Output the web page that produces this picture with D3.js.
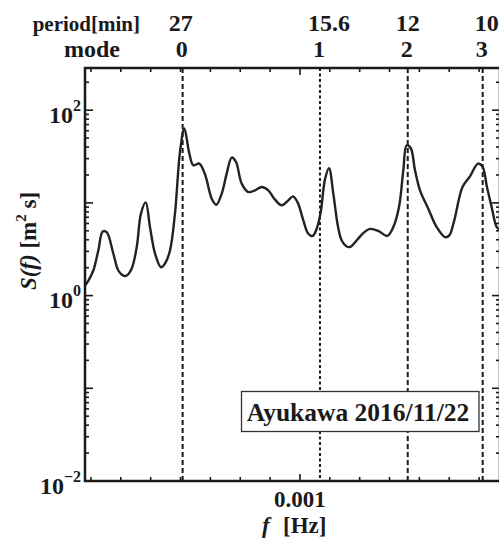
<!DOCTYPE html>
<html>
<head>
<meta charset="utf-8">
<script src="https://cdn.jsdelivr.net/npm/d3@7/dist/d3.min.js"></script>
<style>
  html, body { margin: 0; padding: 0; background: #fff; }
  svg { display: block; }
  text { font-family: "Liberation Serif", "Times New Roman", "DejaVu Serif", serif; font-weight: bold; fill: #1a1a1a; }
</style>
</head>
<body>
<svg id="chart" width="499" height="547"></svg>
<script>
// Spectral density S(f) of sea-level oscillation, Ayukawa 2016/11/22
const freq = [
  0.000280, 0.0002934, 0.0003078, 0.0003246, 0.0003393, 0.0003527, 0.0003748, 0.0003915,
  0.0004083, 0.0004197, 0.0004364, 0.0004532, 0.0004676, 0.0004833, 0.0004977, 0.0005145,
  0.0005346, 0.0005480, 0.0005647, 0.0005814, 0.0005982, 0.0006126, 0.0006293, 0.0006427,
  0.0006628, 0.0006819, 0.0007044, 0.0007198, 0.0007379, 0.0007546, 0.0007714, 0.0007858,
  0.0008048, 0.0008270, 0.0008494, 0.0008718, 0.0008939, 0.0009164, 0.0009388, 0.0009609,
  0.0009767, 0.0009928, 0.0010112, 0.0010279, 0.0010427, 0.0010560, 0.0010695, 0.0010839,
  0.0010973, 0.0011117, 0.0011267, 0.0011398, 0.0011565, 0.0011676, 0.0011910, 0.0012111,
  0.0012346, 0.0012624, 0.0012925, 0.0013126, 0.0013317, 0.0013461, 0.0013575, 0.0013712,
  0.0013853, 0.0014020, 0.0014298, 0.0014580, 0.0014858, 0.0015002, 0.0015159, 0.0015444,
  0.0015695, 0.0015963, 0.0016114, 0.0016265, 0.0016422, 0.0016590, 0.0016683
];
const spectrum = [
  1.283, 1.489, 1.864, 3.065, 4.920, 4.834, 2.846, 1.864,
  1.645, 1.645, 1.958, 3.328, 7.700, 10.12, 5.475, 2.846,
  2.022, 2.218, 3.065, 7.700, 35.42, 63.42, 34.29, 25.43,
  26.53, 20.33, 11.10, 9.561, 12.58, 20.69, 30.81, 27.61,
  16.13, 13.09, 13.65, 14.82, 13.65, 10.83, 9.397, 10.64,
  11.76, 10.00, 6.469, 4.645, 4.398, 5.261, 7.953, 17.95,
  23.60, 12.58, 5.711, 3.932, 3.386, 3.344, 3.981, 4.681,
  5.235, 4.982, 4.398, 5.475, 9.008, 22.46, 41.84, 38.83,
  22.46, 13.65, 8.654, 5.475, 4.269, 4.453, 6.310, 14.82,
  19.34, 26.53, 24.62, 14.71, 8.942, 5.475, 5.170
];

// Seiche modes of the bay and their periods
const modeNumbers = ["0", "1", "2", "3"];
const modePeriods = ["27", "15.6", "12", "10"];
const modeFreq = [0.000607, 0.001067, 0.001361, 0.001612];

// Axis ticks
const xTickLabels = ["0.001"];
const xTickValues = [0.001];
const yTickExponents = [-2, 0, 2];
const legendLabel = "Ayukawa 2016/11/22";

const xDomain = [0.00028, 0.00167];
const yDomain = [0.01, 285];

const L = 85, R = 500, T = 68, B = 481;
const svg = d3.select("#chart");
const ink = "#1a1a1a";

const x = d3.scaleLinear().domain(xDomain).range([L, R]);
const y = d3.scaleLog().domain(yDomain).range([B, T]);

// Mode lines
const dashes = ["5,3", "3,2.5", "5,3", "5,3"];
svg.append("g").selectAll("line").data(modeFreq).join("line")
  .attr("x1", d => x(d)).attr("x2", d => x(d))
  .attr("y1", T).attr("y2", B)
  .attr("stroke", ink).attr("stroke-width", 2)
  .attr("stroke-dasharray", (d, i) => dashes[i]);

// Spectrum curve
const pts = freq.map((f, i) => [f, spectrum[i]]);
const line = d3.line().x(d => x(d[0])).y(d => y(d[1])).curve(d3.curveCatmullRom.alpha(0.5));
svg.append("path").datum(pts)
  .attr("d", line).attr("fill", "none")
  .attr("stroke", "#222").attr("stroke-width", 2.4).attr("stroke-linejoin", "round");

// Frame
svg.append("rect").attr("x", L).attr("y", T).attr("width", R - L).attr("height", B - T)
  .attr("fill", "none").attr("stroke", ink).attr("stroke-width", 2.5);

// x ticks (linear, every 1e-4), pointing inward on bottom and top
const xMinor = d3.range(3, 17).map(k => k * 1e-4);
const gx = svg.append("g").attr("stroke", ink).attr("stroke-width", 1.6);
xMinor.forEach(v => {
  const major = Math.abs(v - 0.001) < 1e-9;
  const len = major ? 7 : 4;
  gx.append("line").attr("x1", x(v)).attr("x2", x(v)).attr("y1", B).attr("y2", B - len);
  gx.append("line").attr("x1", x(v)).attr("x2", x(v)).attr("y1", T).attr("y2", T + len);
});

// y ticks (log), pointing inward on left and right
const gy = svg.append("g").attr("stroke", ink).attr("stroke-width", 1.6);
for (let e = -2; e <= 2; e++) {
  for (let m = 1; m <= 9; m++) {
    const v = m * Math.pow(10, e);
    if (v < yDomain[0] || v > yDomain[1]) continue;
    const len = m === 1 ? 8 : 4;
    gy.append("line").attr("x1", L).attr("x2", L + len).attr("y1", y(v)).attr("y2", y(v));
    gy.append("line").attr("x1", R).attr("x2", R - len).attr("y1", y(v)).attr("y2", y(v));
  }
}

// y tick labels 10^n
yTickExponents.forEach(e => {
  const t = svg.append("text").attr("x", 81).attr("y", y(Math.pow(10, e)) + 12.5)
    .attr("text-anchor", "end").attr("font-size", 24);
  t.append("tspan").text("10");
  t.append("tspan").attr("dy", -12).attr("font-size", 16).text(e < 0 ? "\u2212" + (-e) : String(e));
});

// x tick labels
xTickValues.forEach((v, i) => {
  svg.append("text").attr("x", x(v)).attr("y", 507)
    .attr("text-anchor", "middle").attr("font-size", 23).text(xTickLabels[i]);
});

// x axis title
const xt = svg.append("text").attr("x", 262).attr("y", 533).attr("font-size", 23);
xt.append("tspan").attr("font-style", "italic").text("f");
xt.append("tspan").attr("x", 283).text("[Hz]");

// y axis title
const yt = svg.append("text").attr("transform", "translate(36,241) rotate(-90)")
  .attr("text-anchor", "middle").attr("font-size", 23);
yt.append("tspan").attr("font-style", "italic").text("S(f)");
yt.append("tspan").text(" [m");
yt.append("tspan").attr("dy", -10).attr("font-size", 15).text("2");
yt.append("tspan").attr("dy", 10).text(" s]");

// Top header: periods and mode numbers
svg.append("text").attr("x", 140).attr("y", 31).attr("text-anchor", "end").attr("font-size", 21).text("period[min]");
svg.append("text").attr("x", 120).attr("y", 57).attr("text-anchor", "end").attr("font-size", 24).text("mode");
const periodDx = [-2, 9, 0, 4];
svg.append("g").selectAll("text").data(modePeriods).join("text")
  .attr("x", (d, i) => x(modeFreq[i]) + periodDx[i]).attr("y", 31)
  .attr("text-anchor", "middle").attr("font-size", 24).text(d => d);
svg.append("g").selectAll("text").data(modeNumbers).join("text")
  .attr("x", (d, i) => x(modeFreq[i]) - 1).attr("y", 57)
  .attr("text-anchor", "middle").attr("font-size", 24).text(d => d);

// Legend box
svg.append("rect").attr("x", 241.5).attr("y", 391.5).attr("width", 237.5).attr("height", 40)
  .attr("fill", "#fff").attr("stroke", "#333").attr("stroke-width", 1.3);
svg.append("text").attr("x", 358).attr("y", 421).attr("text-anchor", "middle")
  .attr("font-size", 25.5).text(legendLabel);
</script>
</body>
</html>
